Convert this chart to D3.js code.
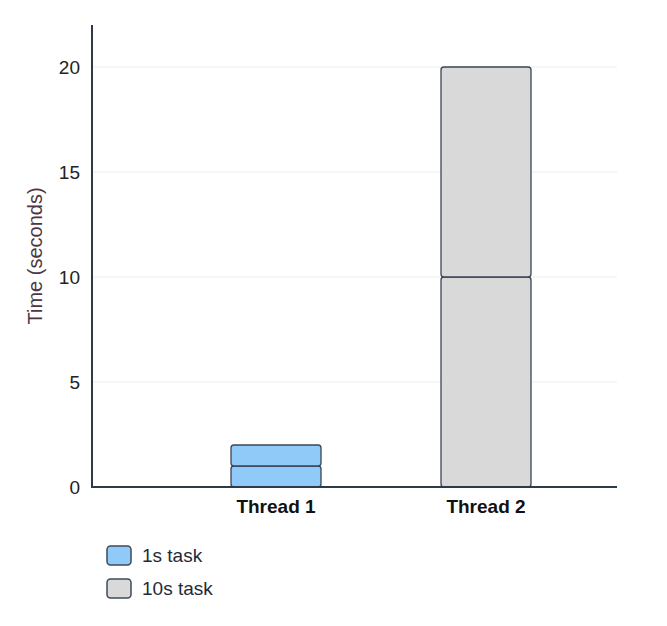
<!DOCTYPE html>
<html>
<head>
<meta charset="utf-8">
<script src="https://cdn.jsdelivr.net/npm/d3@7"></script>
<style>
html,body{margin:0;padding:0;background:#fff;}
svg{display:block;font-family:Arial, "Liberation Sans", sans-serif;}
</style>
</head>
<body>
<svg id="chart" width="667" height="626"></svg>
<script>
const categories = ["Thread 1", "Thread 2"];
const seriesNames = ["1s task", "10s task"];
const thread1Tasks = [1, 1];
const thread2Tasks = [10, 10];
const yTicks = [0, 5, 10, 15, 20];
const colors = ["#90CAF9", "#D9D9D9"];

(function(){
const svg = d3.select("#chart");
const mLeft = 92, mRight = 617, mTop = 25, mBottom = 487;
const FONT = "Arial, 'Liberation Sans', sans-serif";

const x = d3.scaleBand().domain(categories).range([171, 591])
  .paddingInner(4/7).paddingOuter(2/7);
const y = d3.scaleLinear().domain([0, 22]).range([mBottom, mTop]);

// grid
svg.append("g").selectAll("line").data(yTicks.filter(d => d > 0)).join("line")
  .attr("x1", mLeft).attr("x2", mRight)
  .attr("y1", d => y(d)).attr("y2", d => y(d))
  .attr("stroke", "#ebeeee").attr("stroke-width", 1);

// segments
const segs = [];
[[categories[0], thread1Tasks, 0], [categories[1], thread2Tasks, 1]].forEach(([cat, vals, si]) => {
  let acc = 0;
  vals.forEach(v => { segs.push({cat, y0: acc, y1: acc + v, si}); acc += v; });
});
svg.append("g").selectAll("rect").data(segs).join("rect")
  .attr("x", d => x(d.cat))
  .attr("width", x.bandwidth())
  .attr("y", d => y(d.y1))
  .attr("height", d => y(d.y0) - y(d.y1))
  .attr("rx", 3).attr("ry", 3)
  .attr("fill", d => colors[d.si])
  .attr("stroke", "#3a4556").attr("stroke-width", 1.3);

// y axis
const yAxis = d3.axisLeft(y).tickValues(yTicks).tickSize(0).tickPadding(12);
const gy = svg.append("g").attr("transform", `translate(${mLeft},0)`).call(yAxis);
gy.attr("font-size", null).attr("font-family", null);
gy.select(".domain").attr("stroke", "#2d3a4a").attr("stroke-width", 2)
  .attr("d", `M0,${mTop}V${mBottom}`);
gy.selectAll("text").style("font-size", "19px").attr("fill", "#222").style("font-family", FONT);

// x axis
const xAxis = d3.axisBottom(x).tickSize(0).tickPadding(13);
const gx = svg.append("g").attr("transform", `translate(0,${mBottom})`).call(xAxis);
gx.attr("font-size", null).attr("font-family", null);
gx.select(".domain").attr("stroke", "#2d3a4a").attr("stroke-width", 2)
  .attr("d", `M${mLeft - 1},0H${mRight}`);
gx.selectAll("text").style("font-size", "19px").style("font-weight", "bold").attr("fill", "#111")
  .style("font-family", FONT);

// axis title
svg.append("text")
  .attr("transform", `translate(42,256) rotate(-90)`)
  .attr("text-anchor", "middle")
  .style("font-size", "20px").attr("fill", "#4e3640").style("font-family", FONT)
  .text("Time (seconds)");

// legend
const lg = svg.append("g").selectAll("g").data(seriesNames).join("g")
  .attr("transform", (d, i) => `translate(107,${546 + i * 33})`);
lg.append("rect").attr("width", 24).attr("height", 19).attr("rx", 3.5)
  .attr("fill", (d, i) => colors[i]).attr("stroke", "#3e4a5a").attr("stroke-width", 1.5);
lg.append("text").attr("x", 35).attr("y", 16).style("font-size", "19px").attr("fill", "#1f2a3a")
  .style("font-family", FONT)
  .text(d => d);
})();
</script>
</body>
</html>
